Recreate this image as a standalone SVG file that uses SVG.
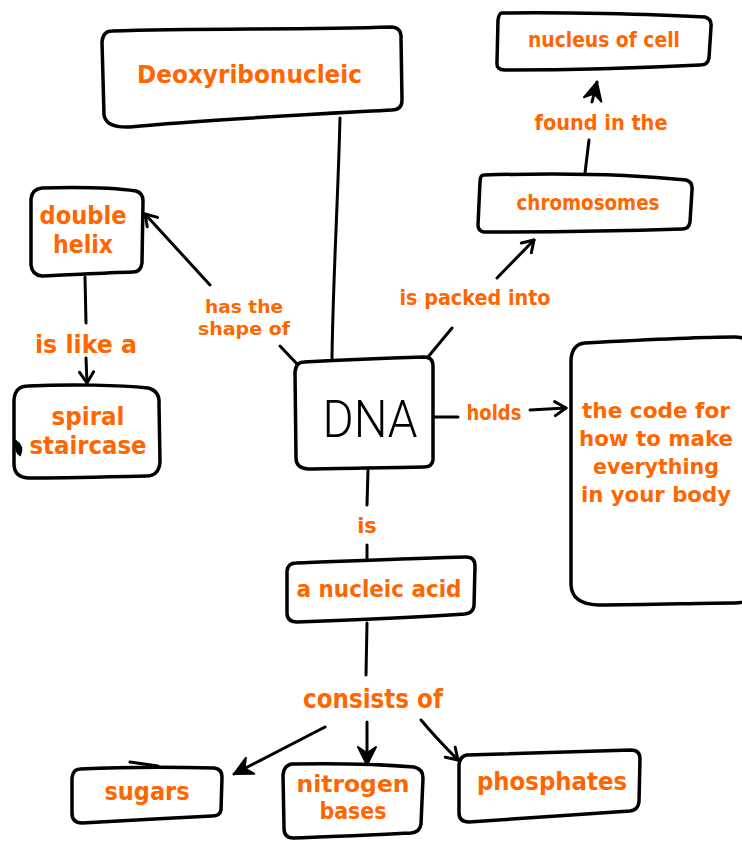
<svg xmlns="http://www.w3.org/2000/svg" width="742" height="842" viewBox="0 0 742 842">
<style>
.box{fill:#fff;stroke:#000;stroke-width:3.5;stroke-linejoin:round;stroke-linecap:round}
.ln{fill:none;stroke:#000;stroke-width:3;stroke-linecap:round;stroke-linejoin:round}
.lb{font-family:"DejaVu Sans","Noto Sans",sans-serif;font-weight:bold;fill:#ff6600;text-anchor:middle}
</style>
<defs>
<marker id="v" viewBox="-14 -9 16 18" markerWidth="16" markerHeight="18" refX="0" refY="0" orient="auto" markerUnits="userSpaceOnUse">
<path d="M-11,-7 L0,0 L-11,7" fill="none" stroke="#000" stroke-width="3" stroke-linecap="round" stroke-linejoin="round"/>
</marker>
<marker id="f" viewBox="-22 -12 24 24" markerWidth="24" markerHeight="24" refX="0" refY="0" orient="auto" markerUnits="userSpaceOnUse">
<path d="M-18,-9 L0,0 L-18,9 L-12,0 Z" fill="#000" stroke="#000" stroke-width="2" stroke-linejoin="round"/>
</marker>
</defs>
<rect width="742" height="842" fill="#fff"/>
<g id="connectors">
<path class="ln" d="M340,118 C338,200 333,280 332,358"/>
<path class="ln" d="M210,285 L145,214" marker-end="url(#v)"/>
<path class="ln" d="M280,346 L298,365"/>
<path class="ln" d="M85,277 L86,323"/>
<path class="ln" d="M86,358 L87,383" marker-end="url(#v)"/>
<path class="ln" d="M428,357 L452,328"/>
<path class="ln" d="M497,278 L534,240" marker-end="url(#v)"/>
<path class="ln" d="M585,173 L589,140"/>
<path class="ln" d="M592,102 L597,82" marker-end="url(#f)"/>
<path class="ln" d="M433,417 L458,417"/>
<path class="ln" d="M530,410 L566,408" marker-end="url(#v)"/>
<path class="ln" d="M368,470 L367,505"/>
<path class="ln" d="M367,545 L367,562"/>
<path class="ln" d="M367,623 L366,675"/>
<path class="ln" d="M325,727 L234,774" marker-end="url(#f)"/>
<path class="ln" d="M367,722 L367,765" marker-end="url(#f)"/>
<path class="ln" d="M421,720 Q436,738 458,760" marker-end="url(#v)"/>
</g>
<g id="deoxyribonucleic">
<path class="box" d="M112,31 C200,28 300,30 392,27 Q402,28 401,38 L402,100 Q402,110 392,110 C300,115 200,120 130,127 Q106,128 104,115 L102,42 Q103,31 112,31 Z"/>
<text class="lb" x="249.5" y="83" font-size="24" textLength="225" lengthAdjust="spacingAndGlyphs">Deoxyribonucleic</text>
</g>
<g id="nucleus">
<path class="box" d="M502,13 C560,12 650,14 705,17 Q712,19 711,27 L709,58 Q708,65 700,65 C640,68 560,70 505,70 Q496,70 497,62 L498,20 Q499,13 502,13 Z"/>
<text class="lb" x="604" y="47" font-size="21" textLength="152" lengthAdjust="spacingAndGlyphs">nucleus of cell</text>
</g>
<g id="chromosomes">
<path class="box" d="M484,175 C550,173 630,174 686,180 Q693,182 692,190 L690,222 Q689,229 682,229 C620,231 540,232 484,232 Q478,231 478,225 L480,182 Q480,175 484,175 Z"/>
<text class="lb" x="588" y="210" font-size="21" textLength="143" lengthAdjust="spacingAndGlyphs">chromosomes</text>
</g>
<g id="double-helix">
<path class="box" d="M42,188 C80,187 115,188 136,191 Q143,193 143,201 L142,263 Q141,272 133,272 C100,273 70,275 42,276 Q32,275 31,265 L31,199 Q32,189 42,188 Z"/>
<text class="lb" x="83" y="224" font-size="24.5" textLength="87" lengthAdjust="spacingAndGlyphs">double</text>
<text class="lb" x="83" y="253" font-size="24.5" textLength="60" lengthAdjust="spacingAndGlyphs">helix</text>
</g>
<g id="spiral-staircase">
<path class="box" d="M28,386 C70,384 120,385 148,388 Q160,391 159,404 L160,462 Q159,476 146,476 C100,477 60,478 28,478 Q14,477 14,464 L14,400 Q15,386 28,386 Z"/>
<path d="M16,441 Q24,446 20,455 Q15,452 16,441 Z" fill="#000" stroke="#000" stroke-width="2"/>
<text class="lb" x="88" y="425" font-size="24" textLength="73" lengthAdjust="spacingAndGlyphs">spiral</text>
<text class="lb" x="88" y="454" font-size="24" textLength="117" lengthAdjust="spacingAndGlyphs">staircase</text>
</g>
<g id="dna">
<path class="box" d="M304,362 C340,360 390,358 424,357 Q433,357 433,366 L433,460 Q432,467 424,467 C380,468 340,468 308,469 Q296,468 296,458 L295,372 Q296,362 304,362 Z"/>
<text x="370" y="437" font-family="Roboto,'Liberation Sans',sans-serif" font-weight="300" font-size="52" fill="#000" text-anchor="middle" textLength="95" lengthAdjust="spacingAndGlyphs">DNA</text>
</g>
<g id="code">
<path class="box" d="M585,343 C640,340 700,337 735,337 Q752,337 752,352 L752,590 Q752,603 735,603 C700,603 650,605 598,605 Q572,604 571,585 L571,360 Q572,344 585,343 Z"/>
<text class="lb" x="656" y="418" font-size="22" textLength="148" lengthAdjust="spacingAndGlyphs">the code for</text>
<text class="lb" x="656" y="446" font-size="22" textLength="154" lengthAdjust="spacingAndGlyphs">how to make</text>
<text class="lb" x="656" y="474" font-size="22" textLength="126" lengthAdjust="spacingAndGlyphs">everything</text>
<text class="lb" x="656" y="502" font-size="22" textLength="150" lengthAdjust="spacingAndGlyphs">in your body</text>
</g>
<g id="nucleic-acid">
<path class="box" d="M296,563 C350,561 420,558 466,557 Q475,557 475,566 L474,606 Q473,613 465,614 C420,617 350,620 297,622 Q287,622 287,613 L287,571 Q288,563 296,563 Z"/>
<text class="lb" x="379" y="597" font-size="23.5" textLength="165" lengthAdjust="spacingAndGlyphs">a nucleic acid</text>
</g>
<g id="sugars">
<path class="box" d="M80,769 C120,767 180,767 214,768 Q222,769 222,777 L221,810 Q220,816 212,816 C170,818 120,821 82,823 Q72,823 72,813 L72,778 Q73,769 80,769 Z"/>
<path class="ln" d="M130,762 L158,766"/>
<text class="lb" x="147" y="800" font-size="24" textLength="85" lengthAdjust="spacingAndGlyphs">sugars</text>
</g>
<g id="nitrogen-bases">
<path class="box" d="M292,764 C340,763 390,765 414,767 Q423,769 423,778 L421,824 Q420,832 411,833 C370,835 330,837 293,838 Q284,838 284,828 L283,775 Q284,765 292,764 Z"/>
<text class="lb" x="353" y="792" font-size="23" textLength="113" lengthAdjust="spacingAndGlyphs">nitrogen</text>
<text class="lb" x="353" y="819" font-size="23" textLength="67" lengthAdjust="spacingAndGlyphs">bases</text>
</g>
<g id="phosphates">
<path class="box" d="M467,755 C530,753 590,751 631,750 Q640,750 640,759 L639,802 Q638,810 630,811 C580,814 520,819 469,822 Q459,822 459,813 L459,765 Q460,756 467,755 Z"/>
<text class="lb" x="552" y="790" font-size="25" textLength="150" lengthAdjust="spacingAndGlyphs">phosphates</text>
</g>
<g id="labels">
<text class="lb" x="244" y="313" font-size="18.5" textLength="78" lengthAdjust="spacingAndGlyphs">has the</text>
<text class="lb" x="244" y="335" font-size="18.5" textLength="92" lengthAdjust="spacingAndGlyphs">shape of</text>
<text class="lb" x="86" y="353" font-size="25" textLength="102" lengthAdjust="spacingAndGlyphs">is like a</text>
<text class="lb" x="475" y="305" font-size="21" textLength="151" lengthAdjust="spacingAndGlyphs">is packed into</text>
<text class="lb" x="601" y="130" font-size="22" textLength="133" lengthAdjust="spacingAndGlyphs">found in the</text>
<text class="lb" x="494" y="420" font-size="22" textLength="55" lengthAdjust="spacingAndGlyphs">holds</text>
<text class="lb" x="367" y="533" font-size="21">is</text>
<text class="lb" x="373" y="708" font-size="26" textLength="140" lengthAdjust="spacingAndGlyphs">consists of</text>
</g>
</svg>
